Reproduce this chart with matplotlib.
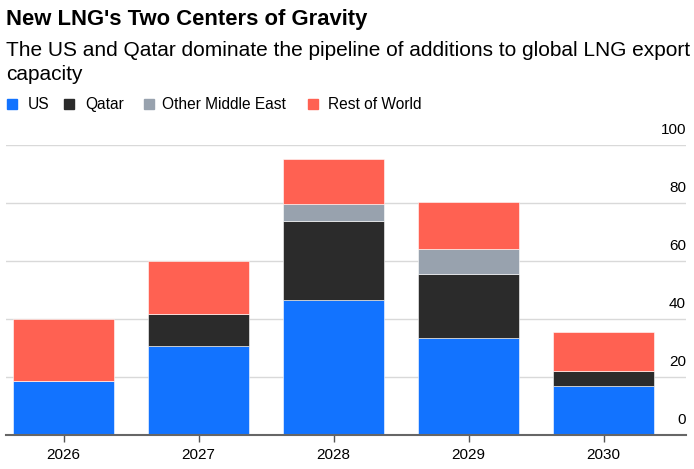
import numpy as np
import matplotlib
matplotlib.use('Agg')
import matplotlib.pyplot as plt
from matplotlib.patches import Rectangle
import matplotlib.transforms as mtrans

plt.rcParams['font.family'] = ['Liberation Sans', 'DejaVu Sans']

years = ['2026', '2027', '2028', '2029', '2030']
us = [18.8, 30.8, 46.6, 33.6, 16.9]
qatar = [0, 10.9, 27.1, 21.9, 5.4]
other_me = [0, 0, 6.1, 8.7, 0]
rest = [21.3, 18.4, 15.5, 16.2, 13.3]

series = ['US', 'Qatar', 'Other Middle East', 'Rest of World']
colors = ['#1273ff', '#2b2b2b', '#98a2ae', '#ff6152']
yticks = [0, 20, 40, 60, 80, 100]

W, H = 694, 469
fig = plt.figure(figsize=(W / 100, H / 100), dpi=100)
ax = fig.add_axes([6 / W, (H - 435.3) / H, (686 - 6) / W, (435.3 - 145) / H])

x = np.arange(len(years))
bottom = np.zeros(len(years))
for name, vals, c in zip(series, [us, qatar, other_me, rest], colors):
    vals = np.array(vals)
    ax.bar(x, vals, bottom=bottom, width=0.75, color=c, edgecolor='white',
           linewidth=0.4, zorder=3)
    bottom += vals

ax.set_xlim(-0.426, 4.61)
ax.set_ylim(0, 100)
ax.set_yticks(yticks)
ax.set_yticklabels([])
ax.tick_params(axis='y', length=0)
ax.grid(axis='y', color='#d9d9d9', linewidth=1.0, zorder=0)
ax.set_xticks(x)
ax.set_xticklabels(years, fontsize=11)
ax.tick_params(axis='x', length=5, width=1, color='#555555', pad=4)
for s in ['top', 'right', 'left']:
    ax.spines[s].set_visible(False)
ax.spines['bottom'].set_color('#666666')
ax.spines['bottom'].set_linewidth(1.5)
ax.spines['bottom'].set_zorder(4)

# y labels sit above the gridlines, right aligned
off = mtrans.offset_copy(ax.get_yaxis_transform(), fig=fig, x=0, y=6, units='points')
for t in yticks:
    ax.text(1.0, t, str(t), transform=off, ha='right', va='bottom', fontsize=11)

fig.text(6 / W, 1 - 19 / H, "New LNG's Two Centers of Gravity", fontsize=15.8,
         fontweight='bold', va='center', ha='left')
fig.text(6 / W, 1 - 50 / H, 'The US and Qatar dominate the pipeline of additions to global LNG export',
         fontsize=15, va='center', ha='left')
fig.text(6 / W, 1 - 75 / H, 'capacity', fontsize=15, va='center', ha='left')

leg_sq = [7, 64, 144, 308]
leg_tx = [28, 85, 162, 328]
for name, c, sx, tx in zip(series, colors, leg_sq, leg_tx):
    fig.patches.append(Rectangle((sx / W, 1 - 109 / H), 10 / W, 10 / H, color=c,
                                 transform=fig.transFigure, figure=fig))
    fig.text(tx / W, 1 - 104 / H, name, fontsize=11.2, va='center', ha='left')

fig.savefig('out.png', dpi=100)
